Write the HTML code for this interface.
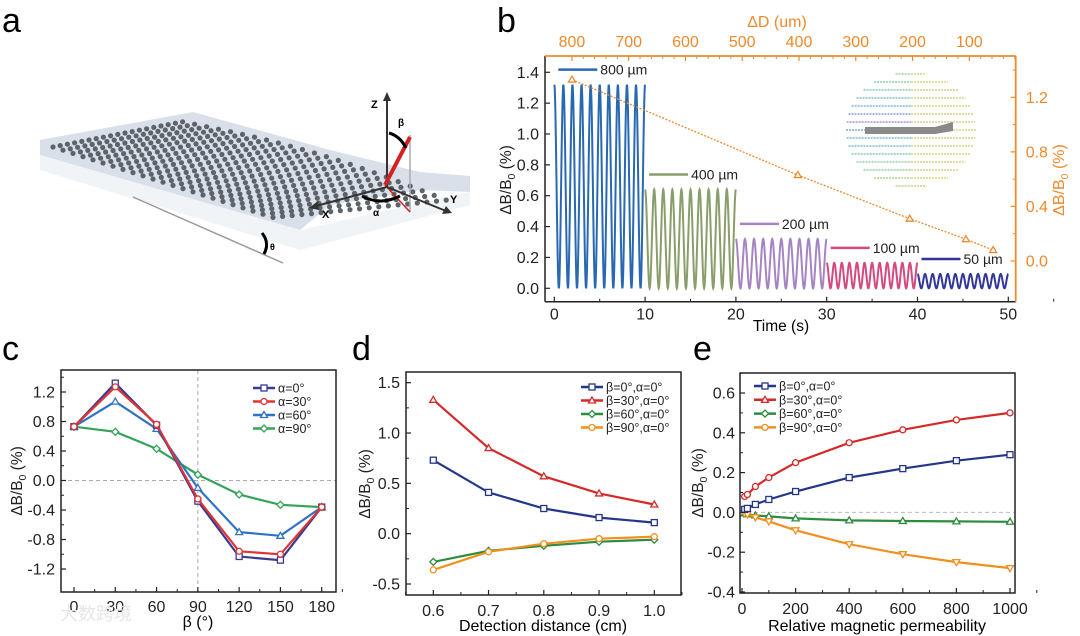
<!DOCTYPE html>
<html><head><meta charset="utf-8"><style>
body{margin:0;background:#fff;}
svg{display:block;font-family:"Liberation Sans","Noto Sans CJK SC",sans-serif;}
</style></head><body>
<svg id="fig" width="1080" height="636" viewBox="0 0 1080 636" xmlns="http://www.w3.org/2000/svg">
<g id="panelA">
  <text x="2" y="32" font-size="34">a</text>
  <polygon points="40,140 193,112 330,150 420,172 470,176 470,192 420,190 330,205 300,230 40,155" fill="#c9d3df" opacity="0.7"/>
  <polygon points="40,155 300,230 470,192 470,205 300,250 40,170" fill="#e8ecf1" opacity="0.6"/>
  <g id="dots"></g>
  <line x1="133" y1="197" x2="283" y2="263" stroke="#999" stroke-width="1.5"/>
  <path d="M262,233 Q270,243 264,254" stroke="#000" stroke-width="3" fill="none"/>
  <text x="270" y="250" font-size="9" font-weight="bold">θ</text>
  <line x1="410" y1="135" x2="410" y2="212" stroke="#aaa" stroke-width="1.5"/>
  <line x1="385" y1="185" x2="410" y2="212" stroke="#d02020" stroke-width="1.5"/>
  <line x1="387" y1="187" x2="387" y2="98" stroke="#333" stroke-width="2"/>
  <polygon points="387,92 383,101 391,101" fill="#333"/>
  <line x1="387" y1="187" x2="316" y2="206" stroke="#333" stroke-width="2"/>
  <polygon points="309,208 318,201 319,210" fill="#333"/>
  <line x1="387" y1="187" x2="446" y2="211" stroke="#333" stroke-width="2"/>
  <polygon points="452,213 442,214 446,206" fill="#333"/>
  <line x1="385" y1="185" x2="410" y2="137" stroke="#d42020" stroke-width="4"/>
  <path d="M389,133 Q400,136 406,148" stroke="#000" stroke-width="3" fill="none"/>
  <path d="M362,196 Q380,206 400,196" stroke="#000" stroke-width="3" fill="none"/>
  <text x="371" y="108" font-size="11" font-weight="bold">Z</text>
  <text x="398" y="126" font-size="10" font-weight="bold">β</text>
  <text x="322" y="218" font-size="11" font-weight="bold">X</text>
  <text x="373" y="216" font-size="10" font-weight="bold">α</text>
  <text x="450" y="203" font-size="11" font-weight="bold">Y</text>
</g>
<g id="panelB"></g>
<g id="panelC"></g>
<g id="panelD"></g>
<g id="panelE"></g>
<text x="60" y="620" font-size="18" fill="#e6e6e6">大数跨境</text>
</svg>
<script>
// ---------- Panel b data ----------
const bSegLabels = ["800 µm","400 µm","200 µm","100 µm","50 µm"];
const bSegStart = [0,10,20,30,40];
const bSegAmp = [1.32,0.64,0.32,0.165,0.093];
const bSegFreq = [1,1,1,1.2,1.2];
const bSegColors = ["#2a69b2","#8a9e6c","#a684c4","#d44a80","#34369a"];
const bTimeTicks = [0,10,20,30,40,50];
const bLeftTicks = [0,0.2,0.4,0.6,0.8,1.0,1.2,1.4];
const bRightTicks = [0,0.4,0.8,1.2];
const bTopTicks = [800,700,600,500,400,300,200,100];
const bDD = [800,402,205,106,58];
const bDDval = [1.33,0.63,0.31,0.16,0.08];
// ---------- Panel c data ----------
const cBeta = [0,30,60,90,120,150,180];
const cA0 = [0.73,1.32,0.75,-0.28,-1.03,-1.08,-0.36];
const cA30 = [0.73,1.27,0.76,-0.25,-0.96,-1.00,-0.36];
const cA60 = [0.73,1.07,0.70,-0.10,-0.70,-0.75,-0.36];
const cA90 = [0.73,0.66,0.43,0.08,-0.19,-0.33,-0.36];
const cXTicks = [0,30,60,90,120,150,180];
const cYTicks = [-1.2,-0.8,-0.4,0,0.4,0.8,1.2];
// ---------- Panel d data ----------
const dDist = [0.6,0.7,0.8,0.9,1.0];
const dB0 = [0.73,0.41,0.25,0.16,0.11];
const dB30 = [1.33,0.85,0.57,0.40,0.29];
const dB60 = [-0.28,-0.17,-0.12,-0.08,-0.06];
const dB90 = [-0.36,-0.18,-0.10,-0.05,-0.03];
const dXTicks = [0.6,0.7,0.8,0.9,1.0];
const dYTicks = [-0.5,0,0.5,1.0,1.5];
// ---------- Panel e data ----------
const eMu = [10,20,50,100,200,400,600,800,1000];
const eB0 = [0.015,0.02,0.04,0.065,0.105,0.175,0.22,0.26,0.29];
const eB30 = [0.08,0.09,0.13,0.175,0.25,0.35,0.415,0.465,0.50];
const eB60 = [-0.005,-0.01,-0.015,-0.02,-0.03,-0.04,-0.043,-0.045,-0.047];
const eB90 = [-0.005,-0.01,-0.025,-0.045,-0.09,-0.16,-0.21,-0.25,-0.28];
const eXTicks = [0,200,400,600,800,1000];
const eYTicks = [-0.4,-0.2,0,0.2,0.4,0.6];

const NS="http://www.w3.org/2000/svg";
const FS=16;
function mk(parent,tag,attrs,text){const e=document.createElementNS(NS,tag);for(const k in attrs)e.setAttribute(k,attrs[k]);if(text!==undefined)e.textContent=text;parent.appendChild(e);return e;}
function lin(v0,p0,v1,p1){return v=>p0+(v-v0)*(p1-p0)/(v1-v0);}
function fmt(v,d){return (v<0?"-":"")+Math.abs(v).toFixed(d);}

(function(){const g=document.getElementById('dots');
for(let i=0;i<=22;i++)for(let j=0;j<=18;j++){
 const t=j/18;const x=53+i*10+j*7.2+ i*j*0.11;const y=147+i*3.2-j*1.4+ i*j*0.02 - Math.sin(i/22*Math.PI)*t*8;
 const c=mk(g,'circle',{cx:x.toFixed(1),cy:y.toFixed(1),r:2.6,fill:'#5d636b'});
 
 
}})();

function marker(g,type,x,y,color){
 let e;const s=3;
 if(type==='sq')e=mk(g,'rect',{x:x-s,y:y-s,width:2*s,height:2*s,fill:'#fff',stroke:color,'stroke-width':1.3});
 else if(type==='ci')e=mk(g,'circle',{cx:x,cy:y,r:s,fill:'#fff',stroke:color,'stroke-width':1.3});
 else if(type==='tr')e=mk(g,'polygon',{points:`${x},${y-s-0.5} ${x-s-0.5},${y+s-0.5} ${x+s+0.5},${y+s-0.5}`,fill:'#fff',stroke:color,'stroke-width':1.3});
 else if(type==='dt')e=mk(g,'polygon',{points:`${x},${y+s+0.5} ${x-s-0.5},${y-s+0.5} ${x+s+0.5},${y-s+0.5}`,fill:'#fff',stroke:color,'stroke-width':1.3});
 else e=mk(g,'polygon',{points:`${x},${y-s-0.5} ${x+s+0.5},${y} ${x},${y+s+0.5} ${x-s-0.5},${y}`,fill:'#fff',stroke:color,'stroke-width':1.3});
 
 
}

function frame(g,L,R,T,B,color){const r=mk(g,'rect',{x:L,y:T,width:R-L,height:B-T,fill:'none',stroke:color||'#222','stroke-width':1.5});
 
 }

function xTicks(g,ticks,sx,B,T,d,minorStep,color,lblY){
 ticks.forEach(v=>{const x=sx(v);mk(g,'line',{x1:x,y1:B,x2:x,y2:B-5,stroke:'#222','stroke-width':1.2});
  const t=mk(g,'text',{x:x,y:lblY,'font-size':FS,'text-anchor':'middle',fill:color||'#222'},d<0?String(v):v.toFixed(d));
  
  
  if(minorStep){const m=sx(v+minorStep);mk(g,'line',{x1:m,y1:B,x2:m,y2:B-3,stroke:'#222','stroke-width':1});}
 });}
function yTicks(g,ticks,sy,L,d,lblX,color){
 ticks.forEach(v=>{const y=sy(v);mk(g,'line',{x1:L,y1:y,x2:L+5,y2:y,stroke:'#222','stroke-width':1.2});
  const t=mk(g,'text',{x:lblX,y:y+5.5,'font-size':FS,'text-anchor':'end',fill:color||'#222'},fmt(v,d));
  
  });}
function ytitle(g,x,y,color,size){const t=mk(g,'text',{transform:`translate(${x},${y}) rotate(-90)`,'font-size':size||15.5,'text-anchor':'middle',fill:color||'#222'});
 t.innerHTML='ΔB/B<tspan font-size="10.5" dy="4">0</tspan><tspan dy="-4"> (%)</tspan>';
 
 }
function series(g,xs,ys,sx,sy,color,mtype,name){
 const pts=xs.map((x,i)=>sx(x).toFixed(1)+','+sy(ys[i]).toFixed(1)).join(' ');
 const p=mk(g,'polyline',{points:pts,fill:'none',stroke:color,'stroke-width':2.2});
 
 
 xs.forEach((x,i)=>marker(g,mtype,sx(x),sy(ys[i]),color));}
function legend(g,x,y0,dy,items){
 items.forEach((it,i)=>{const y=y0+i*dy;mk(g,'line',{x1:x,y1:y,x2:x+22,y2:y,stroke:it.c,'stroke-width':2.5});marker(g,it.m,x+11,y,it.c);
  const t=mk(g,'text',{x:x+25,y:y+4.5,'font-size':12.5,fill:'#222'},it.l);
  
  });}

// ---------- Panel b ----------
(function(){const g=document.getElementById('panelB');
 mk(g,'text',{x:497,y:32,'font-size':34},'b');
 const L=545,R=1015.7,T=56,B=301.7;
 const sx=lin(0,554.3,50,1008.3), sy=lin(0,288.3,1.4,72.3), syR=lin(0,261,1.2,97.3), sxT=lin(400,799,100,969.3);
 const OR='#ef8a2c';
 const ig=mk(g,'g',{});
 const cols=['#8bc48a','#7cc29a','#6fbcaa','#5fb1c0','#69a3cf','#6f8fd8','#8a7fd6','#6f8fd8','#69a3cf','#5fb1c0','#6fbcaa','#7cc29a','#8bc48a','#9fcb7c','#aacf6e'];
 for(let r=0;r<15;r++){const y=74+r*8;const dyn=(y-130)/57;const hw=61*Math.sqrt(Math.max(0,1-dyn*dyn))+4;
  mk(ig,'line',{x1:911-hw,y1:y,x2:911,y2:y,stroke:cols[r],'stroke-width':1.3,'stroke-dasharray':'2 1'});
  mk(ig,'line',{x1:911,y1:y,x2:911+hw,y2:y,stroke:['#c8d070','#d6cf60','#cfc46a'][r%3],'stroke-width':1.3,'stroke-dasharray':'2 1'});}
 mk(ig,'polygon',{points:'865,127 935,127 953,122 953,131 935,134 865,134',fill:'#8a8a8a'});
 bSegStart.forEach((s,k)=>{let d='';for(let i=0;i<=400;i++){const t=s+i*10/400;const v=bSegAmp[k]*(1+Math.cos(2*Math.PI*bSegFreq[k]*(t-s)))/2;d+=(i?'L':'M')+sx(t).toFixed(2)+','+sy(v).toFixed(2);}
  const p=mk(g,'path',{d:d,fill:'none',stroke:bSegColors[k],'stroke-width':2});
  
  
  const lx=sx(s)+4, ly=sy(bSegAmp[k])-15;
  mk(g,'line',{x1:lx,y1:ly,x2:lx+39,y2:ly,stroke:bSegColors[k],'stroke-width':2.5});
  const t=mk(g,'text',{x:lx+42,y:ly+5,'font-size':14,fill:'#222'},bSegLabels[k]);
  
  });
 const pts=bDD.map((v,i)=>sxT(v).toFixed(1)+','+syR(bDDval[i]).toFixed(1)).join(' ');
 const pl=mk(g,'polyline',{points:pts,fill:'none',stroke:OR,'stroke-width':1.3,'stroke-dasharray':'2 1.5'});
 
 
 bDD.forEach((v,i)=>marker(g,'tr',sxT(v),syR(bDDval[i]),OR));
 mk(g,'line',{x1:L,y1:T,x2:L,y2:B,stroke:'#222','stroke-width':1.5});
 mk(g,'line',{x1:L,y1:B,x2:R,y2:B,stroke:'#222','stroke-width':1.5});
 mk(g,'line',{x1:L,y1:T,x2:R,y2:T,stroke:OR,'stroke-width':1.8});
 mk(g,'line',{x1:R,y1:T,x2:R,y2:B,stroke:OR,'stroke-width':1.8});
 xTicks(g,bTimeTicks,sx,B,T,-1,5,'#222',B+18);
 yTicks(g,bLeftTicks,sy,L,1,539);
 bRightTicks.forEach(v=>{const y=syR(v);mk(g,'line',{x1:R,y1:y,x2:R-5,y2:y,stroke:OR,'stroke-width':1.2});
  const m=syR(v+0.2);if(m>T)mk(g,'line',{x1:R,y1:m,x2:R-3,y2:m,stroke:OR,'stroke-width':1});
  const t=mk(g,'text',{x:R+10,y:y+5.5,'font-size':FS,fill:OR},v.toFixed(1));
  
  });
 bTopTicks.forEach(v=>{const x=sxT(v);mk(g,'line',{x1:x,y1:T,x2:x,y2:T+5,stroke:OR,'stroke-width':1.2});
  for(let m=1;m<5;m++){const xm=sxT(v-m*20);if(xm<R)mk(g,'line',{x1:xm,y1:T,x2:xm,y2:T+3,stroke:OR,'stroke-width':1});}
  const t=mk(g,'text',{x:x,y:T-9,'font-size':FS,'text-anchor':'middle',fill:OR},String(v));
  
  });
 const tx=mk(g,'text',{x:781,y:331,'font-size':15.5,'text-anchor':'middle'},'Time (s)');
 
 const tt=mk(g,'text',{x:777,y:27,'font-size':16,'text-anchor':'middle',fill:OR},'ΔD (um)');
 
 ytitle(g,511,180);
 ytitle(g,1064,180,OR,16);
})();

// ---------- Panel c ----------
(function(){const g=document.getElementById('panelC');
 mk(g,'text',{x:2,y:360,'font-size':34},'c');
 const L=61,R=336,T=370,B=592;
 const sx=lin(0,74,180,321.7), sy=lin(1.2,392,-1.2,569);
 mk(g,'line',{x1:L,y1:sy(0),x2:R,y2:sy(0),stroke:'#aaa','stroke-dasharray':'4 3'});
 mk(g,'line',{x1:sx(90),y1:T,x2:sx(90),y2:B,stroke:'#aaa','stroke-dasharray':'4 3'});
 series(g,cBeta,cA90,sx,sy,'#35a35a','dm','series-alpha-90');
 series(g,cBeta,cA60,sx,sy,'#2f73c4','tr','series-alpha-60');
 series(g,cBeta,cA0,sx,sy,'#3a3a8e','sq','series-alpha-0');
 series(g,cBeta,cA30,sx,sy,'#e03434','ci','series-alpha-30');
 frame(g,L,R,T,B);
 xTicks(g,cXTicks,sx,B,T,-1,15,'#222',B+20);
 cYTicks.forEach(v=>{const m=sy(v+0.2);if(m>T)mk(g,'line',{x1:L,y1:m,x2:L+3,y2:m,stroke:'#222'});});
 yTicks(g,cYTicks,sy,L,1,55);
 legend(g,253,388,13.5,[{l:'α=0°',c:'#3a3a8e',m:'sq'},{l:'α=30°',c:'#e03434',m:'ci'},{l:'α=60°',c:'#2f73c4',m:'tr'},{l:'α=90°',c:'#35a35a',m:'dm'}]);
 const tx=mk(g,'text',{x:198,y:627,'font-size':16,'text-anchor':'middle'},'β (°)');
 
 ytitle(g,22,481);
})();

// ---------- Panel d ----------
(function(){const g=document.getElementById('panelD');
 mk(g,'text',{x:352,y:360,'font-size':34},'d');
 const L=406,R=681,T=372,B=595;
 const sx=lin(0.6,433.3,1.0,654.3), sy=lin(1.5,382.7,-0.5,584);
 series(g,dDist,dB60,sx,sy,'#2d8c3e','dm','series-beta-60');
 series(g,dDist,dB90,sx,sy,'#f0901e','ci','series-beta-90');
 series(g,dDist,dB0,sx,sy,'#25358a','sq','series-beta-0');
 series(g,dDist,dB30,sx,sy,'#d42a2a','tr','series-beta-30');
 frame(g,L,R,T,B);
 xTicks(g,dXTicks,sx,B,T,1,0.05,'#222',B+21);
 mk(g,'line',{x1:sx(0.55),y1:B,x2:sx(0.55),y2:B-3,stroke:'#222'});
 dYTicks.forEach(v=>{const m=sy(v+0.25);if(m>T)mk(g,'line',{x1:L,y1:m,x2:L+3,y2:m,stroke:'#222'});});
 yTicks(g,dYTicks,sy,L,1,400);
 legend(g,581,387,13.5,[{l:'β=0°,α=0°',c:'#25358a',m:'sq'},{l:'β=30°,α=0°',c:'#d42a2a',m:'tr'},{l:'β=60°,α=0°',c:'#2d8c3e',m:'dm'},{l:'β=90°,α=0°',c:'#f0901e',m:'ci'}]);
 const tx=mk(g,'text',{x:543,y:631,'font-size':16,'text-anchor':'middle'},'Detection distance (cm)');
 
 ytitle(g,370,484);
})();

// ---------- Panel e ----------
(function(){const g=document.getElementById('panelE');
 mk(g,'text',{x:693,y:360,'font-size':34},'e');
 const L=740,R=1015,T=373,B=593;
 const sx=lin(0,742,1000,1010), sy=lin(0.6,393,-0.4,592);
 mk(g,'line',{x1:L,y1:sy(0),x2:R,y2:sy(0),stroke:'#bbb','stroke-dasharray':'4 3'});
 series(g,eMu,eB60,sx,sy,'#2d8c3e','tr','series-beta-60');
 series(g,eMu,eB90,sx,sy,'#f0901e','dt','series-beta-90');
 series(g,eMu,eB0,sx,sy,'#25358a','sq','series-beta-0');
 series(g,eMu,eB30,sx,sy,'#d42a2a','ci','series-beta-30');
 frame(g,L,R,T,B);
 xTicks(g,eXTicks,sx,B,T,-1,100,'#222',B+21);
 eYTicks.forEach(v=>{const m=sy(v+0.1);if(m>T)mk(g,'line',{x1:L,y1:m,x2:L+3,y2:m,stroke:'#222'});});
 yTicks(g,eYTicks,sy,L,1,735);
 legend(g,754,386,13.8,[{l:'β=0°,α=0°',c:'#25358a',m:'sq'},{l:'β=30°,α=0°',c:'#d42a2a',m:'tr'},{l:'β=60°,α=0°',c:'#2d8c3e',m:'dm'},{l:'β=90°,α=0°',c:'#f0901e',m:'ci'}]);
 const tx=mk(g,'text',{x:877,y:631,'font-size':16,'text-anchor':'middle'},'Relative magnetic permeability');
 
 ytitle(g,703,483);
})();
</script>
</body></html>
